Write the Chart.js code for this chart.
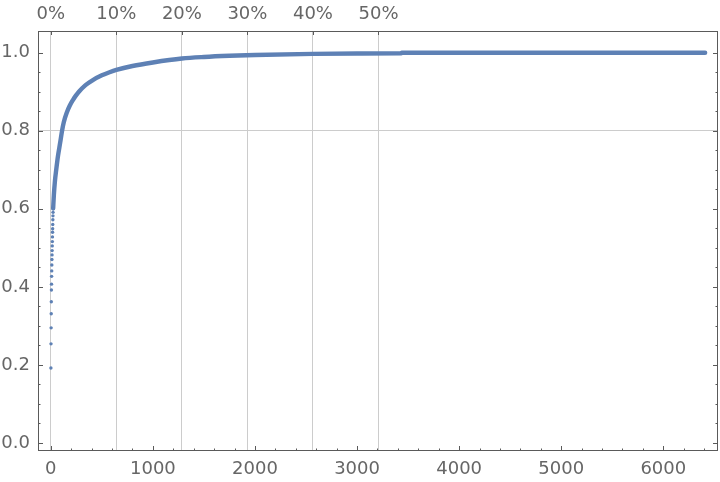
<!DOCTYPE html>
<html>
<head>
<meta charset="utf-8">
<script src="https://cdn.jsdelivr.net/npm/chart.js@4.4.1/dist/chart.umd.min.js"></script>
<style>
  html, body { margin: 0; padding: 0; background: #fff; }
  #wrap { width: 720px; height: 482px; }
</style>
</head>
<body>
<div id="wrap"><canvas id="myChart"></canvas></div>
<script>
// total number of items (10% gridline sits at ~642)
var totalCount = 6420;

// first ranks, drawn as separate dots
var headRanks = [1, 2, 3, 4, 5, 6, 7, 8, 9, 10, 11, 12, 13, 14, 15, 16, 17, 18, 19, 20, 21, 22, 23];
var headValues = [0.192, 0.254, 0.295, 0.331, 0.362, 0.392, 0.407, 0.427, 0.441, 0.456, 0.470, 0.482,
                  0.493, 0.505, 0.516, 0.528, 0.540, 0.549, 0.560, 0.572, 0.582, 0.591, 0.601];

// rest of the curve (dense band of points)
var curveRanks = [23, 25, 30, 40, 53, 70, 92, 110, 127, 157, 185, 215, 245, 275, 340, 412, 500, 575, 642, 800,
                  1000, 1284, 1500, 1750, 2000, 2568, 3000, 3434, 3437, 4500, 5500, 6410];
var curveValues = [0.601, 0.612, 0.636, 0.670, 0.700, 0.735, 0.770, 0.800, 0.822, 0.847, 0.864, 0.878,
                   0.890, 0.900, 0.917, 0.930, 0.942, 0.950, 0.956, 0.966, 0.975, 0.985, 0.989, 0.992,
                   0.994, 0.997, 0.998, 0.9985, 1.0, 1.0, 1.0, 1.0];

var xTicks = [0, 1000, 2000, 3000, 4000, 5000, 6000];
var yTicks = [0, 0.2, 0.4, 0.6, 0.8, 1.0];
var pctTicks = [0, 10, 20, 30, 40, 50];

var blue = "#5e81b5";
var labelFont = { family: "DejaVu Sans", size: 18 };

function toPoints(xs, ys) {
  return xs.map(function (x, i) { return { x: x, y: ys[i] }; });
}

// Mathematica-like frame with inward ticks on all sides
var frameTicks = {
  id: "frameTicks",
  afterDraw: function (chart) {
    var c = chart.ctx, a = chart.chartArea;
    var xs = chart.scales.x, ys = chart.scales.y;
    c.save();
    c.strokeStyle = "#5a5a5a";
    c.lineWidth = 1;
    c.strokeRect(a.left + 0.5, a.top + 0.5, a.right - a.left - 1, a.bottom - a.top - 1);
    c.beginPath();
    for (var v = 0; v <= 6400; v += 200) {
      var px = Math.round(xs.getPixelForValue(v)) + 0.5;
      var len = v % 1000 === 0 ? 5 : 2.5;
      c.moveTo(px, a.bottom); c.lineTo(px, a.bottom - len);
    }
    pctTicks.forEach(function (p) {
      var px = Math.round(xs.getPixelForValue(totalCount * p / 100)) + 0.5;
      c.moveTo(px, a.top); c.lineTo(px, a.top + 4);
    });
    for (var k = 0; k <= 20; k++) {
      var yv = k * 0.05;
      var py = Math.round(ys.getPixelForValue(yv)) + 0.5;
      var l = k % 4 === 0 ? 5 : 2.5;
      c.moveTo(a.left, py); c.lineTo(a.left + l, py);
      c.moveTo(a.right, py); c.lineTo(a.right - l, py);
    }
    c.stroke();
    c.restore();
  }
};

var ctx = document.getElementById("myChart").getContext("2d");
var myChart = new Chart(ctx, {
  type: "scatter",
  data: {
    datasets: [
      {
        label: "head",
        data: toPoints(headRanks, headValues),
        backgroundColor: blue,
        pointRadius: 1.7,
        pointBorderWidth: 0,
        pointHoverRadius: 1.7
      },
      {
        label: "curve",
        data: toPoints(curveRanks, curveValues),
        showLine: true,
        borderColor: blue,
        borderWidth: 4.4,
        borderCapStyle: "round",
        borderJoinStyle: "round",
        cubicInterpolationMode: "monotone",
        pointRadius: 0
      }
    ]
  },
  options: {
    responsive: true,
    maintainAspectRatio: false,
    animation: false,
    layout: { padding: { left: 0, right: 2, top: 0, bottom: 0 } },
    plugins: { legend: { display: false }, tooltip: { enabled: false } },
    scales: {
      x: {
        type: "linear",
        position: "bottom",
        min: -125.5,
        max: 6536,
        afterBuildTicks: function (s) { s.ticks = xTicks.map(function (v) { return { value: v }; }); },
        afterFit: function (s) { s.height = 31; },
        grid: { display: false, drawTicks: false },
        border: { display: false },
        ticks: {
          color: "#666", font: labelFont, padding: 8, maxRotation: 0,
          callback: function (v) { return String(v); }
        }
      },
      x2: {
        type: "linear",
        position: "top",
        min: -125.5,
        max: 6536,
        afterBuildTicks: function (s) {
          s.ticks = pctTicks.map(function (p) { return { value: totalCount * p / 100 }; });
        },
        afterFit: function (s) { s.height = 31; },
        grid: { color: "#cccccc", lineWidth: 1, drawTicks: false },
        border: { display: false },
        ticks: {
          color: "#666", font: labelFont, padding: 6, maxRotation: 0,
          callback: function (v) { return Math.round(v / totalCount * 100) + "%"; }
        }
      },
      y: {
        min: -0.0205,
        max: 1.0556,
        afterBuildTicks: function (s) { s.ticks = yTicks.map(function (v) { return { value: v }; }); },
        afterFit: function (s) { s.width = 38; },
        grid: {
          drawTicks: false,
          color: function (c) { return c.tick && Math.abs(c.tick.value - 0.8) < 1e-6 ? "#cccccc" : "rgba(0,0,0,0)"; }
        },
        border: { display: false },
        ticks: {
          color: "#666", font: labelFont, padding: 8,
          callback: function (v) { return v.toFixed(1); }
        }
      }
    }
  },
  plugins: [frameTicks]
});
</script>
</body>
</html>
